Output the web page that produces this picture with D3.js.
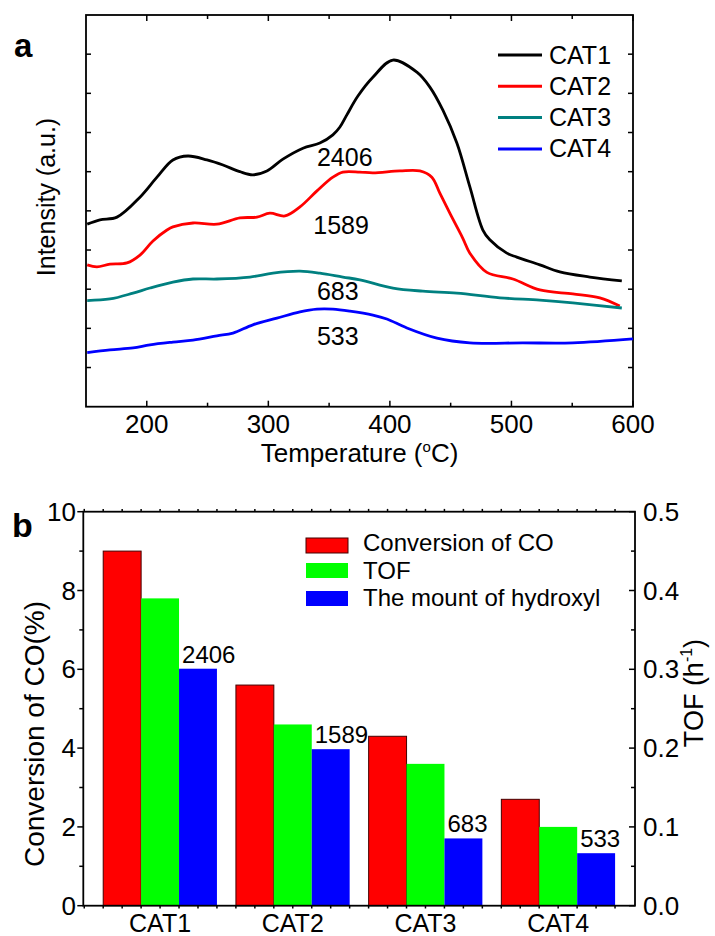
<!DOCTYPE html>
<html>
<head>
<meta charset="utf-8">
<script src="https://cdn.jsdelivr.net/npm/d3@7"></script>
<style>
  html, body { margin: 0; padding: 0; background: #fff; }
  svg { display: block; }
  text { font-family: "Liberation Sans", Arial, sans-serif; fill: #000; }
</style>
</head>
<body>
<script>
// ---------- Panel a: temperature-programmed curves ----------
const cat1T = [151, 161.5, 175.5, 194.4, 208.4, 221.5, 233.9, 249.5, 262.7, 276.6, 287.3, 298.8, 312, 328.5, 342.4, 353.1, 358.9, 364.6, 373.7, 386, 402.5, 422.2, 432.9, 443.6, 455.1, 465.8, 476.5, 482.2, 496.2, 504.4, 523.4, 539.8, 564.5, 590.8];
const cat1I = [4.66, 4.77, 4.84, 5.35, 5.86, 6.30, 6.40, 6.30, 6.17, 6.00, 5.92, 6.02, 6.32, 6.60, 6.73, 6.94, 7.14, 7.45, 7.93, 8.41, 8.85, 8.54, 8.16, 7.57, 6.73, 5.61, 4.51, 4.26, 3.92, 3.82, 3.62, 3.44, 3.31, 3.21];

const cat2T = [151, 159, 169.7, 183.7, 194.4, 205.1, 216.6, 221.5, 238, 257.7, 276.6, 290.6, 301.3, 313.7, 326, 340, 353.1, 361.3, 375.3, 386, 408.2, 424.7, 434.5, 441.1, 449.3, 460, 465.8, 479.8, 501.2, 523.4, 550.5, 572.7, 589.1];
const cat2I = [3.62, 3.57, 3.64, 3.67, 3.87, 4.23, 4.51, 4.59, 4.69, 4.66, 4.82, 4.84, 4.94, 4.87, 5.10, 5.51, 5.86, 5.99, 5.99, 5.97, 6.02, 6.02, 5.86, 5.45, 4.94, 4.30, 3.92, 3.43, 3.26, 2.98, 2.88, 2.78, 2.57];

const cat3T = [151, 169.7, 188.7, 202.6, 221.5, 238, 257.7, 284.9, 303.8, 326, 342.4, 361.3, 375.3, 402.5, 427.1, 455.1, 490.5, 523.4, 550.5, 590.8];
const cat3I = [2.71, 2.75, 2.90, 3.03, 3.18, 3.26, 3.26, 3.31, 3.41, 3.46, 3.41, 3.31, 3.24, 3.03, 2.95, 2.90, 2.78, 2.72, 2.65, 2.52];

const cat4T = [151, 169.7, 188.7, 202.6, 221.5, 238, 257.7, 270.9, 287.3, 307.1, 326, 340, 353.1, 367.1, 386, 397.5, 414, 438.7, 465.8, 509.4, 550.5, 600];
const cat4I = [1.38, 1.45, 1.50, 1.58, 1.65, 1.70, 1.81, 1.88, 2.09, 2.26, 2.42, 2.49, 2.49, 2.44, 2.34, 2.24, 2.01, 1.75, 1.63, 1.63, 1.63, 1.73];

const curveNames = ["CAT1", "CAT2", "CAT3", "CAT4"];
const curveColors = ["#000000", "#ff0000", "#008080", "#0000ff"];
const hydroxylLabels = ["2406", "1589", "683", "533"];
const tempTicks = [200, 300, 400, 500, 600];

// ---------- Panel b: grouped bars ----------
const catalysts = ["CAT1", "CAT2", "CAT3", "CAT4"];
const conversionCO = [9.0, 5.6, 4.3, 2.7];
const tof = [0.39, 0.23, 0.18, 0.10];
const hydroxyl = [2406, 1589, 683, 533];
const seriesNames = ["Conversion of CO", "TOF", "The mount of hydroxyl"];
const barColors = ["#ff0000", "#00ff00", "#0000ff"];
const convTicks = [0, 2, 4, 6, 8, 10];
const tofTicks = [0, 0.1, 0.2, 0.3, 0.4, 0.5];

const W = 715, H = 936;
const svg = d3.select("body").append("svg").attr("width", W).attr("height", H);

const FS = 25;

function tickLines(g, pts) {
  pts.forEach(p => g.append("line")
    .attr("x1", p[0]).attr("y1", p[1]).attr("x2", p[2]).attr("y2", p[3])
    .attr("stroke", "#000").attr("stroke-width", 1.5));
}

// ======== Panel a ========
const xa = d3.scaleLinear().domain([150, 600]).range([86, 633]);
const ya = d3.scaleLinear().domain([0, 10]).range([406.7, 15]);
const ga = svg.append("g");

// frame
ga.append("rect").attr("x", xa(150)).attr("y", ya(10))
  .attr("width", xa(600) - xa(150)).attr("height", ya(0) - ya(10))
  .attr("fill", "none").attr("stroke", "#000").attr("stroke-width", 1.8);

// inward ticks on all four sides
const taTicks = [];
d3.range(200, 601, 50).forEach(v => {
  const len = v % 100 === 0 ? 6 : 4;
  taTicks.push([xa(v), ya(0), xa(v), ya(0) - len]);
  taTicks.push([xa(v), ya(10), xa(v), ya(10) + len]);
});
d3.range(1, 10).forEach(v => {
  taTicks.push([xa(150), ya(v), xa(150) + 5, ya(v)]);
  taTicks.push([xa(600), ya(v), xa(600) - 5, ya(v)]);
});
tickLines(ga, taTicks);

ga.selectAll("text.xt").data(tempTicks).enter().append("text")
  .attr("x", d => xa(d)).attr("y", 433).attr("text-anchor", "middle")
  .style("font-size", "26px").text(d => d);

const xTitle = ga.append("text").attr("x", xa(375)).attr("y", 462).attr("text-anchor", "middle").style("font-size", "26px");
xTitle.append("tspan").text("Temperature (");
xTitle.append("tspan").attr("dy", -10).style("font-size", "15px").text("o");
xTitle.append("tspan").attr("dy", 10).text("C)");

ga.append("text").attr("transform", "translate(55,197) rotate(-90)").attr("text-anchor", "middle")
  .style("font-size", FS + "px").text("Intensity (a.u.)");

ga.append("text").attr("x", 14).attr("y", 57).style("font-size", "33px").style("font-weight", "bold").text("a");

// curves
const curveData = [[cat1T, cat1I], [cat2T, cat2I], [cat3T, cat3I], [cat4T, cat4I]];
const line = d3.line().x(d => xa(d[0])).y(d => ya(d[1])).curve(d3.curveCatmullRom.alpha(0.5));
curveData.forEach((c, i) => {
  const pts = c[0].map((t, j) => [t, c[1][j]]);
  ga.append("path").attr("d", line(pts)).attr("fill", "none")
    .attr("stroke", curveColors[i]).attr("stroke-width", 2.8).attr("stroke-linejoin", "round");
});

// hydroxyl amount labels next to curves
const curveLabelPos = [[340, 6.14], [337, 4.41], [340, 2.73], [340, 1.57]];
hydroxylLabels.forEach((t, i) => {
  ga.append("text").attr("x", xa(curveLabelPos[i][0])).attr("y", ya(curveLabelPos[i][1]))
    .style("font-size", FS + "px").text(t);
});

// legend
curveNames.forEach((n, i) => {
  const y = 55 + i * 31.3;
  ga.append("line").attr("x1", 498).attr("x2", 542).attr("y1", y).attr("y2", y)
    .attr("stroke", curveColors[i]).attr("stroke-width", 3);
  ga.append("text").attr("x", 549).attr("y", y + 8.5).style("font-size", FS + "px").text(n);
});

// ======== Panel b ========
const xb = d3.scaleBand().domain(catalysts).range([83.3, 635]).paddingInner(0.143).paddingOuter(0.15);
const xs = d3.scaleBand().domain([0, 1, 2]).range([0, xb.bandwidth()]);
const yL = d3.scaleLinear().domain([0, 10]).range([905.7, 511.7]);
const yR = d3.scaleLinear().domain([0, 0.5]).range([905.7, 511.7]);
const yH = d3.scaleLinear().domain([0, 4000]).range([905.7, 511.7]);
const gb = svg.append("g");

const barSeries = [
  { vals: conversionCO, y: yL },
  { vals: tof, y: yR },
  { vals: hydroxyl, y: yH }
];
barSeries.forEach((s, k) => {
  gb.selectAll(null).data(catalysts).enter().append("rect")
    .attr("x", d => xb(d) + xs(k)).attr("width", xs.bandwidth())
    .attr("y", (d, i) => s.y(s.vals[i]))
    .attr("height", (d, i) => s.y(0) - s.y(s.vals[i]))
    .attr("fill", barColors[k])
    .attr("stroke", k === 0 ? "#400" : "none").attr("stroke-width", 1);
});

// hydroxyl labels above the blue bars
gb.selectAll(null).data(catalysts).enter().append("text")
  .attr("x", d => xb(d) + xs(2) + 3)
  .attr("y", (d, i) => yH(hydroxyl[i]) - 6)
  .style("font-size", "24px").text((d, i) => hydroxyl[i]);

// frame
gb.append("rect").attr("x", 83.3).attr("y", yL(10)).attr("width", 635 - 83.3).attr("height", yL(0) - yL(10))
  .attr("fill", "none").attr("stroke", "#000").attr("stroke-width", 1.8);

const tb = [];
// left axis: outward ticks
d3.range(0, 11).forEach(v => {
  const len = v % 2 === 0 ? 6 : 4;
  tb.push([83.3, yL(v), 83.3 - len, yL(v)]);
});
// right axis: inward ticks
d3.range(0, 11).forEach(v => {
  const len = v % 2 === 0 ? 6 : 4;
  tb.push([635, yR(v * 0.05), 635 - len, yR(v * 0.05)]);
});
// small ticks along top and bottom at half-bar spacing
const half = xs.bandwidth() / 2;
const x0 = xb(catalysts[0]) - half;
d3.range(0, 29).forEach(k => {
  const x = x0 + k * half;
  if (x > 84 && x < 634) {
    tb.push([x, 905.7, x, 908.5]);
    tb.push([x, 511.7, x, 508.9]);
  }
});
tickLines(gb, tb);

gb.selectAll(null).data(convTicks).enter().append("text")
  .attr("x", 76).attr("y", d => yL(d) + 9).attr("text-anchor", "end")
  .style("font-size", "26px").text(d => d);
gb.selectAll(null).data(tofTicks).enter().append("text")
  .attr("x", 643).attr("y", d => yR(d) + 9)
  .style("font-size", "26px").text(d => d3.format(".1f")(d));

gb.selectAll(null).data(catalysts).enter().append("text")
  .attr("x", d => xb(d) + xb.bandwidth() / 2).attr("y", 932).attr("text-anchor", "middle")
  .style("font-size", FS + "px").text(d => d);

gb.append("text").attr("transform", "translate(44,734) rotate(-90)").attr("text-anchor", "middle")
  .style("font-size", "28px").text("Conversion of CO(%)");

const rTitle = gb.append("text").attr("transform", "translate(703,693) rotate(-90)").attr("text-anchor", "middle")
  .style("font-size", "27px");
rTitle.append("tspan").text("TOF (h");
rTitle.append("tspan").attr("dy", -11).style("font-size", "16px").text("-1");
rTitle.append("tspan").attr("dy", 11).text(")");

gb.append("text").attr("x", 12).attr("y", 537).style("font-size", "34px").style("font-weight", "bold").text("b");

// legend
const legRectY = [538, 563, 591];
const legTextY = [551, 579, 606];
seriesNames.forEach((n, i) => {
  gb.append("rect").attr("x", 306).attr("y", legRectY[i]).attr("width", 42).attr("height", 15)
    .attr("fill", barColors[i]).attr("stroke", i === 0 ? "#400" : "none");
  gb.append("text").attr("x", 363).attr("y", legTextY[i]).style("font-size", "24px").text(n);
});
</script>
</body>
</html>
